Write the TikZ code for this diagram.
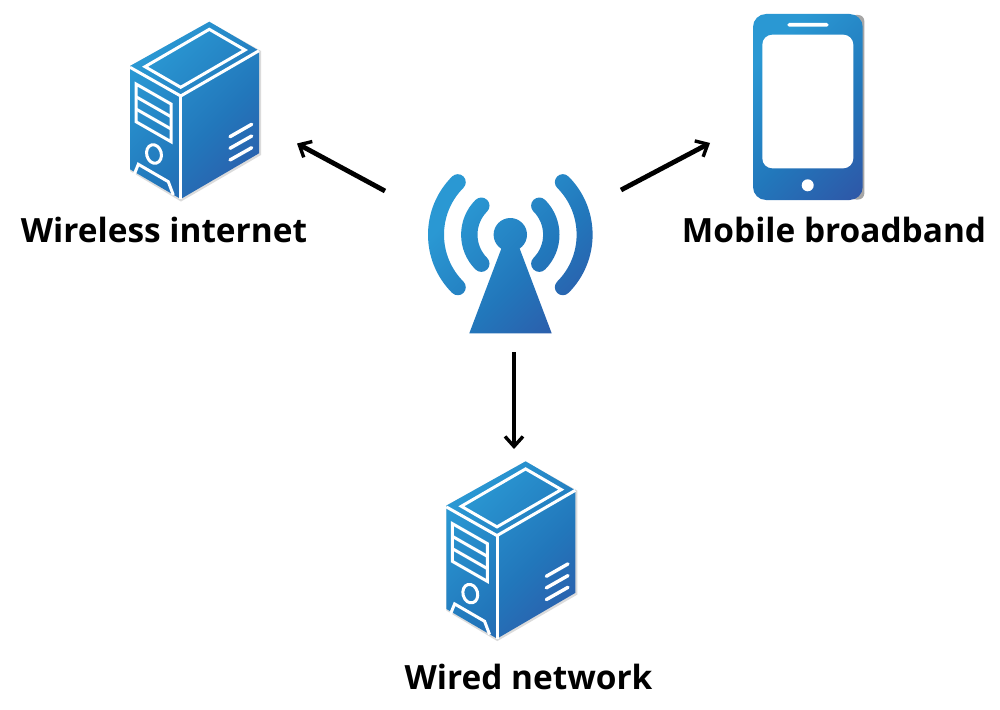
\documentclass[tikz,border=0pt]{standalone}
\usepackage{fontspec}
\usetikzlibrary{arrows.meta}
\setmainfont{Open Sans}
\definecolor{gradA}{HTML}{2A98D3}
\definecolor{gradB}{HTML}{2277BB}
\definecolor{gradC}{HTML}{2F55A6}
\pgfdeclarehorizontalshading{icongrad}{100bp}{
  color(0bp)=(gradA); color(32bp)=(gradA); color(56bp)=(gradB); color(78bp)=(gradC); color(100bp)=(gradC)}
\newcommand{\ringarc}[6]{% cx cy r halfwidth a b
  (#1,#2) ++(#5:#3+#4)
  arc[start angle=#5,end angle=#6,radius=#3+#4]
  arc[start angle=#6,delta angle=180,radius=#4]
  arc[start angle=#6,end angle=#5,radius=#3-#4]
  arc[start angle=#5+180,delta angle=180,radius=#4] -- cycle}
\tikzset{
  x=1pt,y=-1pt,
  every node/.style={inner sep=0pt,outer sep=0pt},
  label text/.style={font=\fontsize{33.4pt}{36pt}\selectfont\bfseries,text=black,anchor=base},
  link/.style={draw=black,line width=4.8pt,-{Straight Barb[length=10pt,width=18pt,line width=3.4pt]}},
  icon line/.style={draw=white,line width=3pt,line join=miter},
  vent/.style={draw=white,line width=3.4pt,line cap=round},
  serverpic/.pic={
    \fill[black!14] (209.3,22) -- (261,51) -- (261,155) -- (181,201.5) -- (130,171) -- (130,66) -- cycle;
    \begin{scope}
      \clip (209.3,21.7) -- (259,50.7) -- (259,153.3) -- (180.7,199) -- (130,169.3) -- (130,66) -- cycle;
      \shade[shading=icongrad,shading angle=-45] (105,0) rectangle (285,220);
    \end{scope}
    \draw[icon line] (130,67.3) -- (180.7,96) -- (259,50.7);
    \draw[icon line] (180.7,96) -- (180.7,199);
    \draw[icon line] (209.3,29.3) -- (245,50) -- (180.7,87.3) -- (145,66.7) -- cycle;
    \draw[icon line] (136,84) -- (171,104) -- (171,141.7) -- (136,121.7) -- cycle;
    \draw[icon line] (136,96.7) -- (171,116.7);
    \draw[icon line] (136,109) -- (171,129);
    \draw[icon line,rotate around={15:(154,154)}] (154,154) ellipse[x radius=7.3,y radius=9.4];
    \draw[icon line] (134,175) -- (138.3,164.3) -- (168.3,181.7) -- (173.3,195);
    \draw[vent] (230,136.7) -- (251.7,124.3);
    \draw[vent] (230,148.3) -- (251.7,136);
    \draw[vent] (230,160) -- (251.7,147.7);
  }
}
\begin{document}
\begin{tikzpicture}
\useasboundingbox (0,0) rectangle (1000,709);
\fill[white] (0,0) rectangle (1000,709);
% server icons
\pic at (0,0) {serverpic};
\pic at (316.3,439.6) {serverpic};
% antenna
\begin{scope}
  \clip \ringarc{510.3}{234.7}{74.3}{8}{135}{225}
        \ringarc{510.3}{234.7}{74.3}{8}{-45}{45}
        \ringarc{510.3}{234.7}{41}{8.2}{135}{225}
        \ringarc{510.3}{234.7}{41}{8.2}{-45}{45}
        (510.3,234.7) circle[radius=16.7]
        (469.3,333.3) -- (502.7,245) -- (518.3,245) -- (551.7,333.3) -- cycle;
  \shade[shading=icongrad,shading angle=-45] (410,160) rectangle (610,350);
\end{scope}
% phone
\fill[black!35,rounded corners=6pt] (850,15) rectangle (864.3,199.5);
\begin{scope}
  \clip[rounded corners=13pt] (753,14) rectangle (862.7,200);
  \shade[shading=icongrad,shading angle=-45] (715,10) rectangle (900,205);
\end{scope}
\fill[white,rounded corners=10pt] (762.3,34.7) rectangle (853.3,168.3);
\fill[white,rounded corners=1.8pt] (787.3,23) rectangle (828.7,26.7);
\fill[white] (807.7,185.3) circle[radius=6];
% labels
\node[label text] (lblA) at (164,242) {Wireless internet};
\node[label text] (lblB) at (834,242) {Mobile broadband};
\node[label text] (lblC) at (528.5,689) {Wired network};
% connector ends
\coordinate (hubNW) at (385,191);
\coordinate (hubNE) at (621,190);
\coordinate (hubS) at (514,352);
\coordinate (srvA) at (297,143.5);
\coordinate (phone) at (710,143);
\coordinate (srvB) at (514,449);
\draw[link] (hubNW) -- (srvA);
\draw[link] (hubNE) -- (phone);
\draw[link] (hubS) -- (srvB);
\end{tikzpicture}
\end{document}
